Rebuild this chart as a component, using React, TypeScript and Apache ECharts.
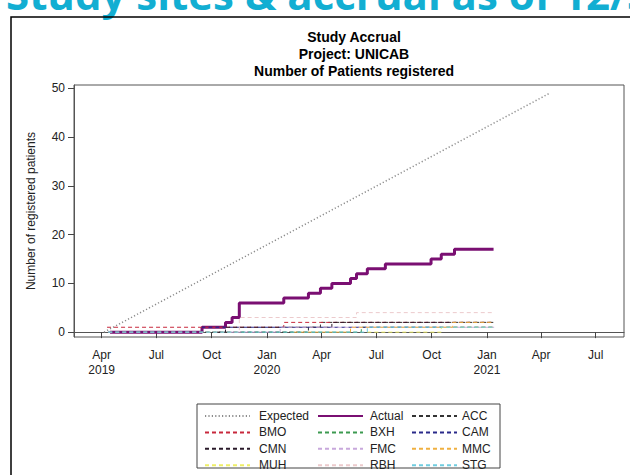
import React, { useEffect, useRef } from 'react';
import * as echarts from 'echarts';

// ---- tick labels ----
const quarterTicks = ['2019-04-01', '2019-07-01', '2019-10-01', '2020-01-01', '2020-04-01', '2020-07-01', '2020-10-01', '2021-01-01', '2021-04-01', '2021-07-01'];
const quarterLabels = ['Apr\n2019', 'Jul', 'Oct', 'Jan\n2020', 'Apr', 'Jul', 'Oct', 'Jan\n2021', 'Apr', 'Jul'];
const yTicks = [0, 10, 20, 30, 40, 50];

// ---- series data ----
const expectedDates = ['2019-04-05', '2021-04-15'];
const expectedValues = [0, 49];

const actualDates = ['2019-04-15', '2019-09-15', '2019-10-24', '2019-11-04', '2019-11-16', '2020-01-29', '2020-03-10', '2020-03-30', '2020-04-18', '2020-05-19', '2020-05-29', '2020-06-16', '2020-07-16', '2020-09-30', '2020-10-17', '2020-11-08', '2021-01-12'];
const actualValues = [0, 1, 2, 3, 6, 7, 8, 9, 10, 11, 12, 13, 14, 15, 16, 17, 17];

const accDates = ['2019-09-20', '2020-03-10', '2020-03-30', '2021-01-13'];
const accValues = [0, 1, 2, 2];
const bmoDates = ['2019-04-10', '2020-01-29', '2021-01-13'];
const bmoValues = [1, 2, 2];
const bxhDates = ['2019-04-12', '2020-06-06', '2021-01-13'];
const bxhValues = [0, 1, 1];
const camDates = ['2019-04-12', '2019-09-15', '2021-01-13'];
const camValues = [0, 1, 1];
const cmnDates = ['2019-10-10', '2019-10-24', '2020-04-18', '2021-01-13'];
const cmnValues = [0, 1, 2, 2];
const fmcDates = ['2019-11-01', '2020-01-23', '2021-01-13'];
const fmcValues = [0, 1, 1];
const mmcDates = ['2020-02-15', '2020-05-19', '2020-11-05', '2021-01-13'];
const mmcValues = [0, 1, 2, 2];
const muhDates = ['2020-06-16', '2020-10-17', '2021-01-13'];
const muhValues = [0, 1, 1];
const rbhDates = ['2019-04-12', '2019-11-16', '2020-05-29', '2021-01-13'];
const rbhValues = [0, 3, 4, 4];
const stgDates = ['2019-04-12', '2020-06-16', '2021-01-13'];
const stgValues = [0, 1, 1];

const toMs = (s: string) => {
  const [y, m, d] = s.split('-').map(Number);
  return Date.UTC(y, m - 1, d);
};
const pairs = (dates: string[], values: number[]) => dates.map((d, i) => [toMs(d), values[i]]);

const FONT = '"Liberation Sans", Arial, sans-serif';

export default function App() {
  const ref = useRef<HTMLDivElement>(null);

  useEffect(() => {
    if (!ref.current) return;
    const chart = echarts.init(ref.current, undefined, { renderer: 'svg' });
    const quarterMs = quarterTicks.map(toMs);

    const site = (name: string, dates: string[], values: number[], color: string) => ({
      name,
      type: 'line',
      step: 'end',
      symbol: 'none',
      data: pairs(dates, values),
      itemStyle: { color },
      lineStyle: { color, width: 1, type: [4, 3] },
    });

    const legendBase = {
      orient: 'vertical',
      top: 410,
      itemWidth: 45,
      itemHeight: 12,
      itemGap: 4.4,
      padding: 0,
      selectedMode: false,
      itemStyle: { opacity: 0 },
    };
    const legendText = (pad: number) => ({ fontSize: 12, color: '#222', fontFamily: FONT, lineHeight: 12, padding: [0, 0, 0, pad] });

    chart.setOption({
      animation: false,
      backgroundColor: '#fff',
      textStyle: { fontFamily: FONT },
      title: {
        text: 'Study Accrual\nProject: UNICAB\nNumber of Patients registered',
        left: 349,
        top: 23,
        textAlign: 'center',
        textStyle: { fontFamily: FONT, fontSize: 14, fontWeight: 'bold', color: '#000', lineHeight: 17 },
      },
      graphic: [
        {
          type: 'text',
          left: 6,
          top: -28,
          silent: true,
          style: {
            text: 'Study sites & accrual as of 12/31/2020',
            font: 'bold 42px "Open Sans", Lato, sans-serif',
            fill: '#12aed2',
          },
        },
        {
          type: 'rect',
          silent: true,
          shape: { x: 11, y: 17, width: 700, height: 500 },
          style: { fill: 'transparent', stroke: '#000', lineWidth: 1.5 },
        },
        {
          type: 'rect',
          silent: true,
          shape: { x: 197, y: 404, width: 303, height: 64 },
          style: { fill: 'transparent', stroke: '#444', lineWidth: 1 },
        },
      ],
      grid: {
        left: 74,
        top: 85,
        width: 550,
        height: 252,
        show: true,
        borderColor: '#555',
        borderWidth: 1,
        backgroundColor: 'transparent',
      },
      xAxis: {
        type: 'value',
        min: toMs('2019-02-14'),
        max: toMs('2021-08-17'),
        splitLine: { show: false },
        axisLine: { show: true, lineStyle: { color: '#555' } },
        axisTick: { show: true, length: 6, lineStyle: { color: '#444' }, customValues: quarterMs },
        axisLabel: {
          customValues: quarterMs,
          margin: 10,
          fontSize: 12,
          lineHeight: 15,
          color: '#222',
          fontFamily: FONT,
          formatter: (v: number) => {
            const i = quarterMs.indexOf(v);
            return i >= 0 ? quarterLabels[i] : '';
          },
        },
      },
      yAxis: {
        type: 'value',
        min: -1,
        max: 50.7,
        name: 'Number of registered patients',
        nameLocation: 'middle',
        nameGap: 37,
        nameTextStyle: { fontSize: 12, color: '#222', fontFamily: FONT },
        splitLine: { show: false },
        axisLine: { show: true, lineStyle: { color: '#555' } },
        axisTick: { show: true, length: 6, lineStyle: { color: '#444' }, customValues: yTicks },
        axisLabel: { customValues: yTicks, margin: 9, fontSize: 12, color: '#222', fontFamily: FONT },
      },
      legend: [
        { ...legendBase, left: 204, data: ['Expected', 'BMO', 'CMN', 'MUH'], textStyle: legendText(4) },
        { ...legendBase, left: 317, data: ['Actual', 'BXH', 'FMC', 'RBH'], textStyle: legendText(2) },
        { ...legendBase, left: 411, data: ['ACC', 'CAM', 'MMC', 'STG'], textStyle: legendText(0) },
      ],
      series: [
        {
          name: 'Expected',
          type: 'line',
          symbol: 'none',
          data: pairs(expectedDates, expectedValues),
          itemStyle: { color: '#8c8c8c' },
          lineStyle: { color: '#8c8c8c', width: 1.5, type: [1.2, 2.2] },
        },
        {
          name: 'Actual',
          type: 'line',
          step: 'end',
          symbol: 'none',
          data: pairs(actualDates, actualValues),
          itemStyle: { color: '#7a0f72' },
          lineStyle: { color: '#7a0f72', width: 3 },
        },
        site('ACC', accDates, accValues, '#333333'),
        site('BMO', bmoDates, bmoValues, '#c8283c'),
        site('BXH', bxhDates, bxhValues, '#3c9a50'),
        site('CAM', camDates, camValues, '#2a2a8a'),
        site('CMN', cmnDates, cmnValues, '#2a1a2a'),
        site('FMC', fmcDates, fmcValues, '#c8a8dc'),
        site('MMC', mmcDates, mmcValues, '#f0b040'),
        site('MUH', muhDates, muhValues, '#eeee66'),
        site('RBH', rbhDates, rbhValues, '#eccacc'),
        site('STG', stgDates, stgValues, '#70cde0'),
      ],
    });

    return () => chart.dispose();
  }, []);

  return <div ref={ref} style={{ position: 'absolute', left: 0, top: 0, width: 630, height: 475 }} />;
}
